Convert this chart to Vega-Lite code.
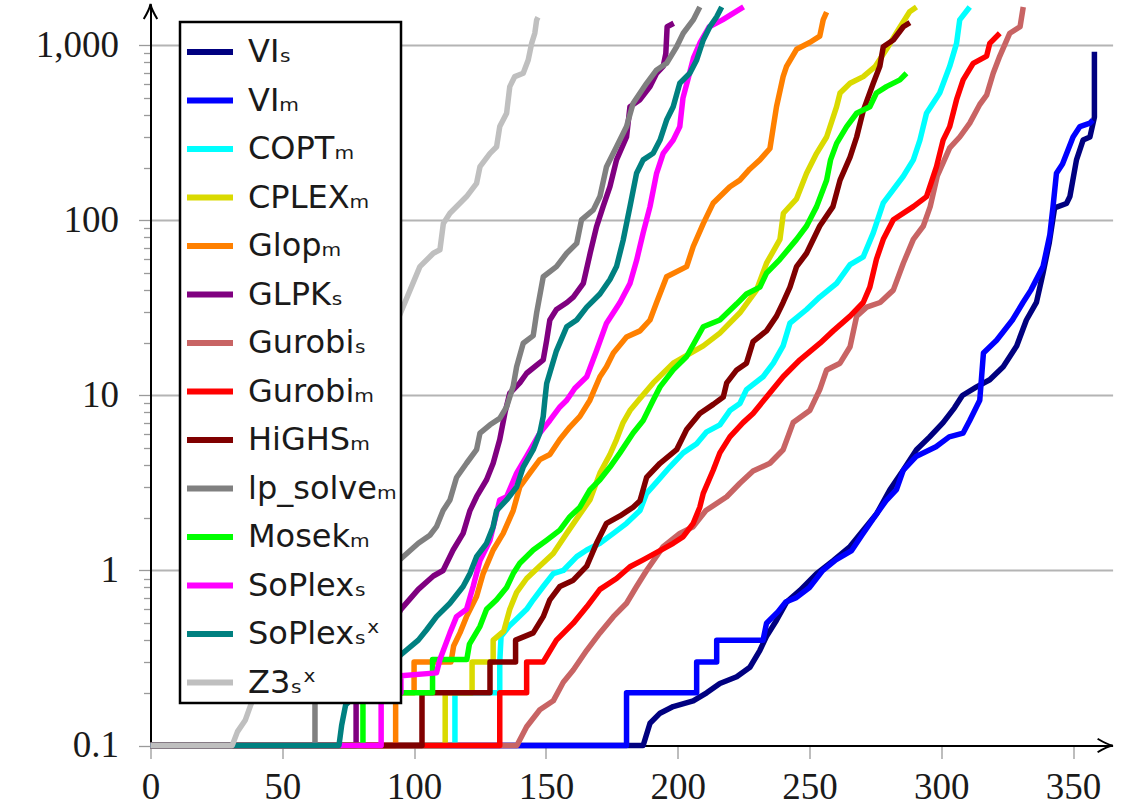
{
  "$schema": "https://vega.github.io/schema/vega-lite/v6.json",
  "width": 962.1,
  "height": 741.5,
  "autosize": {"type": "none"},
  "padding": {"left": 150.5, "top": 4, "right": 17.4, "bottom": 62.5},
  "background": "white",
  "config": {"view": {"stroke": null}},
  "datasets": {
    "runs": [
      {"solver":"VI\u209b","n":0,"t":0.1},{"solver":"VI\u209b","n":186.9,"t":0.1},{"solver":"VI\u209b","n":189.5,"t":0.134},{"solver":"VI\u209b","n":193.3,"t":0.153},{"solver":"VI\u209b","n":198.3,"t":0.167},{"solver":"VI\u209b","n":205.9,"t":0.18},{"solver":"VI\u209b","n":211,"t":0.2},{"solver":"VI\u209b","n":216,"t":0.226},{"solver":"VI\u209b","n":222.4,"t":0.247},{"solver":"VI\u209b","n":227.4,"t":0.28},{"solver":"VI\u209b","n":231.2,"t":0.35},{"solver":"VI\u209b","n":233.7,"t":0.42},{"solver":"VI\u209b","n":237.5,"t":0.52},{"solver":"VI\u209b","n":241.3,"t":0.66},{"solver":"VI\u209b","n":246.4,"t":0.77},{"solver":"VI\u209b","n":252.7,"t":0.96},{"solver":"VI\u209b","n":259,"t":1.14},{"solver":"VI\u209b","n":265.4,"t":1.37},{"solver":"VI\u209b","n":270.4,"t":1.7},{"solver":"VI\u209b","n":275.4,"t":2.1},{"solver":"VI\u209b","n":280.5,"t":2.89},{"solver":"VI\u209b","n":285.6,"t":3.75},{"solver":"VI\u209b","n":290.6,"t":4.9},{"solver":"VI\u209b","n":295.6,"t":5.8},{"solver":"VI\u209b","n":300.7,"t":7.0},{"solver":"VI\u209b","n":305,"t":8.5},{"solver":"VI\u209b","n":308,"t":10},{"solver":"VI\u209b","n":313.4,"t":11.2},{"solver":"VI\u209b","n":318.4,"t":12.3},{"solver":"VI\u209b","n":323.5,"t":14.6},{"solver":"VI\u209b","n":328.6,"t":19.2},{"solver":"VI\u209b","n":332.3,"t":27},{"solver":"VI\u209b","n":336.1,"t":34},{"solver":"VI\u209b","n":338.6,"t":50},{"solver":"VI\u209b","n":341,"t":75},{"solver":"VI\u209b","n":343,"t":118},{"solver":"VI\u209b","n":347.5,"t":125},{"solver":"VI\u209b","n":348.8,"t":137},{"solver":"VI\u209b","n":351.3,"t":222},{"solver":"VI\u209b","n":353.8,"t":288},{"solver":"VI\u209b","n":356.4,"t":300},{"solver":"VI\u209b","n":358.1,"t":390},{"solver":"VI\u209b","n":358.1,"t":920},

      {"solver":"VI\u2098","n":0,"t":0.1},{"solver":"VI\u2098","n":180.6,"t":0.1},{"solver":"VI\u2098","n":180.6,"t":0.2},{"solver":"VI\u2098","n":207.2,"t":0.2},{"solver":"VI\u2098","n":207.2,"t":0.3},{"solver":"VI\u2098","n":214.8,"t":0.3},{"solver":"VI\u2098","n":214.8,"t":0.4},{"solver":"VI\u2098","n":232.4,"t":0.4},{"solver":"VI\u2098","n":233.7,"t":0.5},{"solver":"VI\u2098","n":238,"t":0.58},{"solver":"VI\u2098","n":241,"t":0.66},{"solver":"VI\u2098","n":245,"t":0.7},{"solver":"VI\u2098","n":250,"t":0.8},{"solver":"VI\u2098","n":255,"t":1.0},{"solver":"VI\u2098","n":260,"t":1.15},{"solver":"VI\u2098","n":266,"t":1.3},{"solver":"VI\u2098","n":270,"t":1.6},{"solver":"VI\u2098","n":274,"t":1.96},{"solver":"VI\u2098","n":279,"t":2.5},{"solver":"VI\u2098","n":283,"t":2.9},{"solver":"VI\u2098","n":285.6,"t":3.75},{"solver":"VI\u2098","n":290.6,"t":4.5},{"solver":"VI\u2098","n":298,"t":5.1},{"solver":"VI\u2098","n":303,"t":5.8},{"solver":"VI\u2098","n":308.3,"t":6.1},{"solver":"VI\u2098","n":310.8,"t":7.2},{"solver":"VI\u2098","n":314.6,"t":9.4},{"solver":"VI\u2098","n":315.5,"t":14},{"solver":"VI\u2098","n":316,"t":17.5},{"solver":"VI\u2098","n":321,"t":20.7},{"solver":"VI\u2098","n":327,"t":27},{"solver":"VI\u2098","n":331,"t":34},{"solver":"VI\u2098","n":334,"t":40},{"solver":"VI\u2098","n":338.6,"t":54.5},{"solver":"VI\u2098","n":341.2,"t":83},{"solver":"VI\u2098","n":342.4,"t":120},{"solver":"VI\u2098","n":343.7,"t":186},{"solver":"VI\u2098","n":346,"t":210},{"solver":"VI\u2098","n":350,"t":300},{"solver":"VI\u2098","n":352.6,"t":344},{"solver":"VI\u2098","n":356.4,"t":360},{"solver":"VI\u2098","n":357.5,"t":375},

      {"solver":"COPT\u2098","n":0,"t":0.1},{"solver":"COPT\u2098","n":115.5,"t":0.1},{"solver":"COPT\u2098","n":115.5,"t":0.2},{"solver":"COPT\u2098","n":132.5,"t":0.2},{"solver":"COPT\u2098","n":132.5,"t":0.3},{"solver":"COPT\u2098","n":133,"t":0.42},{"solver":"COPT\u2098","n":136,"t":0.48},{"solver":"COPT\u2098","n":139,"t":0.53},{"solver":"COPT\u2098","n":142.7,"t":0.6},{"solver":"COPT\u2098","n":145.2,"t":0.68},{"solver":"COPT\u2098","n":149,"t":0.81},{"solver":"COPT\u2098","n":152.8,"t":0.96},{"solver":"COPT\u2098","n":156.6,"t":1.0},{"solver":"COPT\u2098","n":161.7,"t":1.2},{"solver":"COPT\u2098","n":165.5,"t":1.31},{"solver":"COPT\u2098","n":170.5,"t":1.43},{"solver":"COPT\u2098","n":175.6,"t":1.63},{"solver":"COPT\u2098","n":180.6,"t":1.86},{"solver":"COPT\u2098","n":185.7,"t":2.2},{"solver":"COPT\u2098","n":188.2,"t":2.76},{"solver":"COPT\u2098","n":192,"t":3.2},{"solver":"COPT\u2098","n":197,"t":3.9},{"solver":"COPT\u2098","n":202.1,"t":4.7},{"solver":"COPT\u2098","n":207.2,"t":5.3},{"solver":"COPT\u2098","n":211,"t":6.2},{"solver":"COPT\u2098","n":216,"t":6.8},{"solver":"COPT\u2098","n":219.8,"t":8.2},{"solver":"COPT\u2098","n":223.6,"t":9.0},{"solver":"COPT\u2098","n":226.1,"t":10.8},{"solver":"COPT\u2098","n":232.4,"t":12.8},{"solver":"COPT\u2098","n":236.3,"t":15.3},{"solver":"COPT\u2098","n":240,"t":19.2},{"solver":"COPT\u2098","n":242.6,"t":25.9},{"solver":"COPT\u2098","n":248.9,"t":31},{"solver":"COPT\u2098","n":253.9,"t":36.5},{"solver":"COPT\u2098","n":260.3,"t":43.7},{"solver":"COPT\u2098","n":265.4,"t":56},{"solver":"COPT\u2098","n":270.4,"t":62},{"solver":"COPT\u2098","n":274.2,"t":85},{"solver":"COPT\u2098","n":278,"t":126},{"solver":"COPT\u2098","n":285.6,"t":179},{"solver":"COPT\u2098","n":289.4,"t":222},{"solver":"COPT\u2098","n":291.9,"t":288},{"solver":"COPT\u2098","n":294.4,"t":410},{"solver":"COPT\u2098","n":299.4,"t":535},{"solver":"COPT\u2098","n":303.2,"t":760},{"solver":"COPT\u2098","n":305.8,"t":1028},{"solver":"COPT\u2098","n":307,"t":1400},{"solver":"COPT\u2098","n":310.8,"t":1660},

      {"solver":"CPLEX\u2098","n":0,"t":0.1},{"solver":"CPLEX\u2098","n":111.8,"t":0.1},{"solver":"CPLEX\u2098","n":111.8,"t":0.2},{"solver":"CPLEX\u2098","n":122,"t":0.2},{"solver":"CPLEX\u2098","n":122,"t":0.3},{"solver":"CPLEX\u2098","n":130,"t":0.3},{"solver":"CPLEX\u2098","n":130,"t":0.4},{"solver":"CPLEX\u2098","n":134,"t":0.45},{"solver":"CPLEX\u2098","n":136.3,"t":0.6},{"solver":"CPLEX\u2098","n":138.9,"t":0.75},{"solver":"CPLEX\u2098","n":142.7,"t":0.9},{"solver":"CPLEX\u2098","n":147.7,"t":1.06},{"solver":"CPLEX\u2098","n":152.8,"t":1.25},{"solver":"CPLEX\u2098","n":157.9,"t":1.63},{"solver":"CPLEX\u2098","n":162.9,"t":2.1},{"solver":"CPLEX\u2098","n":166.7,"t":2.53},{"solver":"CPLEX\u2098","n":170.5,"t":3.6},{"solver":"CPLEX\u2098","n":174.3,"t":4.6},{"solver":"CPLEX\u2098","n":176.8,"t":5.6},{"solver":"CPLEX\u2098","n":179.3,"t":7.0},{"solver":"CPLEX\u2098","n":181.9,"t":8.2},{"solver":"CPLEX\u2098","n":185.7,"t":9.6},{"solver":"CPLEX\u2098","n":190.7,"t":11.8},{"solver":"CPLEX\u2098","n":198.3,"t":15.3},{"solver":"CPLEX\u2098","n":209.7,"t":19.2},{"solver":"CPLEX\u2098","n":216,"t":22.7},{"solver":"CPLEX\u2098","n":223.6,"t":29.7},{"solver":"CPLEX\u2098","n":229.9,"t":40},{"solver":"CPLEX\u2098","n":233.7,"t":57},{"solver":"CPLEX\u2098","n":238.8,"t":78},{"solver":"CPLEX\u2098","n":240.1,"t":110},{"solver":"CPLEX\u2098","n":245.1,"t":133},{"solver":"CPLEX\u2098","n":248.9,"t":186},{"solver":"CPLEX\u2098","n":252.7,"t":242},{"solver":"CPLEX\u2098","n":256.5,"t":300},{"solver":"CPLEX\u2098","n":260.3,"t":447},{"solver":"CPLEX\u2098","n":261.6,"t":535},{"solver":"CPLEX\u2098","n":265.4,"t":608},{"solver":"CPLEX\u2098","n":270.4,"t":664},{"solver":"CPLEX\u2098","n":275,"t":760},{"solver":"CPLEX\u2098","n":279.2,"t":951},{"solver":"CPLEX\u2098","n":284,"t":1250},{"solver":"CPLEX\u2098","n":288,"t":1560},{"solver":"CPLEX\u2098","n":290.6,"t":1660},

      {"solver":"Glop\u2098","n":0,"t":0.1},{"solver":"Glop\u2098","n":93,"t":0.1},{"solver":"Glop\u2098","n":93,"t":0.2},{"solver":"Glop\u2098","n":100,"t":0.2},{"solver":"Glop\u2098","n":100,"t":0.3},{"solver":"Glop\u2098","n":114,"t":0.3},{"solver":"Glop\u2098","n":115,"t":0.37},{"solver":"Glop\u2098","n":117.4,"t":0.44},{"solver":"Glop\u2098","n":119.9,"t":0.545},{"solver":"Glop\u2098","n":123.7,"t":0.71},{"solver":"Glop\u2098","n":126.2,"t":0.96},{"solver":"Glop\u2098","n":130,"t":1.31},{"solver":"Glop\u2098","n":133.8,"t":1.63},{"solver":"Glop\u2098","n":137.6,"t":2.2},{"solver":"Glop\u2098","n":140.1,"t":3.0},{"solver":"Glop\u2098","n":143.9,"t":3.6},{"solver":"Glop\u2098","n":147.7,"t":4.3},{"solver":"Glop\u2098","n":151.5,"t":4.6},{"solver":"Glop\u2098","n":155.3,"t":5.6},{"solver":"Glop\u2098","n":159.1,"t":6.6},{"solver":"Glop\u2098","n":162.9,"t":7.6},{"solver":"Glop\u2098","n":166.7,"t":9.4},{"solver":"Glop\u2098","n":170.5,"t":12.8},{"solver":"Glop\u2098","n":173,"t":14.6},{"solver":"Glop\u2098","n":175.6,"t":17.5},{"solver":"Glop\u2098","n":180.6,"t":21.6},{"solver":"Glop\u2098","n":185.7,"t":23.4},{"solver":"Glop\u2098","n":189.5,"t":27},{"solver":"Glop\u2098","n":192,"t":34},{"solver":"Glop\u2098","n":195.8,"t":47.7},{"solver":"Glop\u2098","n":203.4,"t":54.5},{"solver":"Glop\u2098","n":205.9,"t":71},{"solver":"Glop\u2098","n":209.7,"t":96},{"solver":"Glop\u2098","n":213.5,"t":126},{"solver":"Glop\u2098","n":219.8,"t":156},{"solver":"Glop\u2098","n":223.6,"t":170},{"solver":"Glop\u2098","n":227.4,"t":197},{"solver":"Glop\u2098","n":231.2,"t":222},{"solver":"Glop\u2098","n":235,"t":258},{"solver":"Glop\u2098","n":236.3,"t":344},{"solver":"Glop\u2098","n":237.5,"t":447},{"solver":"Glop\u2098","n":240,"t":664},{"solver":"Glop\u2098","n":241.3,"t":760},{"solver":"Glop\u2098","n":245.1,"t":951},{"solver":"Glop\u2098","n":250.1,"t":1040},{"solver":"Glop\u2098","n":253.9,"t":1130},{"solver":"Glop\u2098","n":255.2,"t":1400},{"solver":"Glop\u2098","n":256.5,"t":1550},

      {"solver":"GLPK\u209b","n":0,"t":0.1},{"solver":"GLPK\u209b","n":78,"t":0.1},{"solver":"GLPK\u209b","n":78,"t":0.2},{"solver":"GLPK\u209b","n":85,"t":0.3},{"solver":"GLPK\u209b","n":95,"t":0.6},{"solver":"GLPK\u209b","n":101.6,"t":0.78},{"solver":"GLPK\u209b","n":107.3,"t":0.93},{"solver":"GLPK\u209b","n":111,"t":1.0},{"solver":"GLPK\u209b","n":114.8,"t":1.31},{"solver":"GLPK\u209b","n":118.6,"t":1.63},{"solver":"GLPK\u209b","n":121.2,"t":2.2},{"solver":"GLPK\u209b","n":123.7,"t":2.64},{"solver":"GLPK\u209b","n":127.5,"t":3.3},{"solver":"GLPK\u209b","n":130,"t":4.1},{"solver":"GLPK\u209b","n":132.5,"t":5.6},{"solver":"GLPK\u209b","n":134.5,"t":8},{"solver":"GLPK\u209b","n":136.3,"t":10.3},{"solver":"GLPK\u209b","n":140.1,"t":11.8},{"solver":"GLPK\u209b","n":142.7,"t":13.4},{"solver":"GLPK\u209b","n":149,"t":16},{"solver":"GLPK\u209b","n":150.3,"t":20.7},{"solver":"GLPK\u209b","n":151.5,"t":27},{"solver":"GLPK\u209b","n":154,"t":31},{"solver":"GLPK\u209b","n":158,"t":34},{"solver":"GLPK\u209b","n":160.4,"t":36.5},{"solver":"GLPK\u209b","n":164.2,"t":43.7},{"solver":"GLPK\u209b","n":166.8,"t":65},{"solver":"GLPK\u209b","n":169.2,"t":92},{"solver":"GLPK\u209b","n":171.7,"t":120},{"solver":"GLPK\u209b","n":174.3,"t":156},{"solver":"GLPK\u209b","n":176.8,"t":222},{"solver":"GLPK\u209b","n":180.6,"t":300},{"solver":"GLPK\u209b","n":181.9,"t":447},{"solver":"GLPK\u209b","n":185.7,"t":490},{"solver":"GLPK\u209b","n":189.5,"t":582},{"solver":"GLPK\u209b","n":192,"t":694},{"solver":"GLPK\u209b","n":194.5,"t":760},{"solver":"GLPK\u209b","n":195.5,"t":900},{"solver":"GLPK\u209b","n":196,"t":1280},{"solver":"GLPK\u209b","n":198.5,"t":1340},

      {"solver":"Gurobi\u209b","n":0,"t":0.1},{"solver":"Gurobi\u209b","n":139,"t":0.1},{"solver":"Gurobi\u209b","n":142.7,"t":0.128},{"solver":"Gurobi\u209b","n":147.7,"t":0.16},{"solver":"Gurobi\u209b","n":152.8,"t":0.18},{"solver":"Gurobi\u209b","n":156.6,"t":0.23},{"solver":"Gurobi\u209b","n":160.4,"t":0.27},{"solver":"Gurobi\u209b","n":165.5,"t":0.35},{"solver":"Gurobi\u209b","n":170.5,"t":0.44},{"solver":"Gurobi\u209b","n":175.6,"t":0.545},{"solver":"Gurobi\u209b","n":180.6,"t":0.65},{"solver":"Gurobi\u209b","n":184.4,"t":0.81},{"solver":"Gurobi\u209b","n":188.2,"t":1.0},{"solver":"Gurobi\u209b","n":194.5,"t":1.37},{"solver":"Gurobi\u209b","n":200.8,"t":1.63},{"solver":"Gurobi\u209b","n":205.9,"t":1.78},{"solver":"Gurobi\u209b","n":210.7,"t":2.2},{"solver":"Gurobi\u209b","n":218.6,"t":2.64},{"solver":"Gurobi\u209b","n":223.6,"t":3.15},{"solver":"Gurobi\u209b","n":228.6,"t":3.7},{"solver":"Gurobi\u209b","n":235,"t":4.1},{"solver":"Gurobi\u209b","n":240,"t":4.9},{"solver":"Gurobi\u209b","n":243.8,"t":7.0},{"solver":"Gurobi\u209b","n":250.1,"t":8.2},{"solver":"Gurobi\u209b","n":253.9,"t":10.8},{"solver":"Gurobi\u209b","n":256.5,"t":14},{"solver":"Gurobi\u209b","n":261.6,"t":15.3},{"solver":"Gurobi\u209b","n":265.4,"t":19},{"solver":"Gurobi\u209b","n":267.9,"t":28.4},{"solver":"Gurobi\u209b","n":271.7,"t":32},{"solver":"Gurobi\u209b","n":276.8,"t":34},{"solver":"Gurobi\u209b","n":281.8,"t":40},{"solver":"Gurobi\u209b","n":285.6,"t":57},{"solver":"Gurobi\u209b","n":289.4,"t":78},{"solver":"Gurobi\u209b","n":293.2,"t":93},{"solver":"Gurobi\u209b","n":295.8,"t":120},{"solver":"Gurobi\u209b","n":298.5,"t":180},{"solver":"Gurobi\u209b","n":303.2,"t":260},{"solver":"Gurobi\u209b","n":307,"t":300},{"solver":"Gurobi\u209b","n":310.8,"t":360},{"solver":"Gurobi\u209b","n":314.6,"t":460},{"solver":"Gurobi\u209b","n":317.2,"t":520},{"solver":"Gurobi\u209b","n":319.7,"t":694},{"solver":"Gurobi\u209b","n":322.2,"t":870},{"solver":"Gurobi\u209b","n":326,"t":1175},{"solver":"Gurobi\u209b","n":329.9,"t":1280},{"solver":"Gurobi\u209b","n":331.1,"t":1660},

      {"solver":"Gurobi\u2098","n":0,"t":0.1},{"solver":"Gurobi\u2098","n":132.5,"t":0.1},{"solver":"Gurobi\u2098","n":132.5,"t":0.2},{"solver":"Gurobi\u2098","n":142.7,"t":0.2},{"solver":"Gurobi\u2098","n":142.7,"t":0.3},{"solver":"Gurobi\u2098","n":149,"t":0.3},{"solver":"Gurobi\u2098","n":154,"t":0.4},{"solver":"Gurobi\u2098","n":160.4,"t":0.5},{"solver":"Gurobi\u2098","n":165.5,"t":0.62},{"solver":"Gurobi\u2098","n":170.5,"t":0.78},{"solver":"Gurobi\u2098","n":176.8,"t":0.9},{"solver":"Gurobi\u2098","n":181.9,"t":1.05},{"solver":"Gurobi\u2098","n":186.9,"t":1.15},{"solver":"Gurobi\u2098","n":193.3,"t":1.3},{"solver":"Gurobi\u2098","n":198.3,"t":1.43},{"solver":"Gurobi\u2098","n":202.1,"t":1.56},{"solver":"Gurobi\u2098","n":205.9,"t":1.86},{"solver":"Gurobi\u2098","n":208.4,"t":2.3},{"solver":"Gurobi\u2098","n":209.7,"t":2.76},{"solver":"Gurobi\u2098","n":213.5,"t":3.75},{"solver":"Gurobi\u2098","n":216,"t":4.7},{"solver":"Gurobi\u2098","n":219.8,"t":5.8},{"solver":"Gurobi\u2098","n":224.8,"t":7.0},{"solver":"Gurobi\u2098","n":228.6,"t":7.9},{"solver":"Gurobi\u2098","n":233.7,"t":9.8},{"solver":"Gurobi\u2098","n":240,"t":12.8},{"solver":"Gurobi\u2098","n":246.4,"t":16},{"solver":"Gurobi\u2098","n":254,"t":19.9},{"solver":"Gurobi\u2098","n":259,"t":23.4},{"solver":"Gurobi\u2098","n":265.4,"t":28.4},{"solver":"Gurobi\u2098","n":270.4,"t":34},{"solver":"Gurobi\u2098","n":272.9,"t":41.6},{"solver":"Gurobi\u2098","n":275.4,"t":60},{"solver":"Gurobi\u2098","n":278,"t":78},{"solver":"Gurobi\u2098","n":281.8,"t":101},{"solver":"Gurobi\u2098","n":289.4,"t":120},{"solver":"Gurobi\u2098","n":294.4,"t":137},{"solver":"Gurobi\u2098","n":298.2,"t":203},{"solver":"Gurobi\u2098","n":300.7,"t":288},{"solver":"Gurobi\u2098","n":303.2,"t":344},{"solver":"Gurobi\u2098","n":305.8,"t":490},{"solver":"Gurobi\u2098","n":308.3,"t":636},{"solver":"Gurobi\u2098","n":312.1,"t":791},{"solver":"Gurobi\u2098","n":317.2,"t":870},{"solver":"Gurobi\u2098","n":318.4,"t":1028},{"solver":"Gurobi\u2098","n":322.2,"t":1175},

      {"solver":"HiGHS\u2098","n":0,"t":0.1},{"solver":"HiGHS\u2098","n":103,"t":0.1},{"solver":"HiGHS\u2098","n":103,"t":0.2},{"solver":"HiGHS\u2098","n":128.8,"t":0.2},{"solver":"HiGHS\u2098","n":128.8,"t":0.3},{"solver":"HiGHS\u2098","n":138.5,"t":0.3},{"solver":"HiGHS\u2098","n":138.5,"t":0.4},{"solver":"HiGHS\u2098","n":145.2,"t":0.44},{"solver":"HiGHS\u2098","n":149,"t":0.545},{"solver":"HiGHS\u2098","n":151.5,"t":0.68},{"solver":"HiGHS\u2098","n":155.3,"t":0.81},{"solver":"HiGHS\u2098","n":160.4,"t":0.88},{"solver":"HiGHS\u2098","n":165.5,"t":1.06},{"solver":"HiGHS\u2098","n":169.2,"t":1.43},{"solver":"HiGHS\u2098","n":173,"t":1.86},{"solver":"HiGHS\u2098","n":178.1,"t":2.05},{"solver":"HiGHS\u2098","n":183.1,"t":2.3},{"solver":"HiGHS\u2098","n":185.7,"t":2.5},{"solver":"HiGHS\u2098","n":188.2,"t":3.4},{"solver":"HiGHS\u2098","n":193.3,"t":4.1},{"solver":"HiGHS\u2098","n":199.6,"t":4.9},{"solver":"HiGHS\u2098","n":203.4,"t":6.4},{"solver":"HiGHS\u2098","n":208.4,"t":7.9},{"solver":"HiGHS\u2098","n":213.5,"t":8.9},{"solver":"HiGHS\u2098","n":217.3,"t":9.8},{"solver":"HiGHS\u2098","n":218.6,"t":11.8},{"solver":"HiGHS\u2098","n":222.4,"t":14},{"solver":"HiGHS\u2098","n":226.1,"t":15.3},{"solver":"HiGHS\u2098","n":228.6,"t":20.3},{"solver":"HiGHS\u2098","n":233.7,"t":23.4},{"solver":"HiGHS\u2098","n":237.5,"t":28.4},{"solver":"HiGHS\u2098","n":240,"t":34},{"solver":"HiGHS\u2098","n":242.6,"t":41.6},{"solver":"HiGHS\u2098","n":245.1,"t":54.5},{"solver":"HiGHS\u2098","n":248.9,"t":65},{"solver":"HiGHS\u2098","n":253.9,"t":93},{"solver":"HiGHS\u2098","n":258.9,"t":120},{"solver":"HiGHS\u2098","n":261.6,"t":170},{"solver":"HiGHS\u2098","n":265.4,"t":230},{"solver":"HiGHS\u2098","n":267.9,"t":300},{"solver":"HiGHS\u2098","n":270.4,"t":424},{"solver":"HiGHS\u2098","n":274.2,"t":608},{"solver":"HiGHS\u2098","n":276.7,"t":760},{"solver":"HiGHS\u2098","n":278,"t":984},{"solver":"HiGHS\u2098","n":281.8,"t":1075},{"solver":"HiGHS\u2098","n":285.6,"t":1280},{"solver":"HiGHS\u2098","n":288.1,"t":1350},

      {"solver":"lp_solve\u2098","n":0,"t":0.1},{"solver":"lp_solve\u2098","n":62.4,"t":0.1},{"solver":"lp_solve\u2098","n":62.4,"t":0.2},{"solver":"lp_solve\u2098","n":70,"t":0.4},{"solver":"lp_solve\u2098","n":80,"t":0.7},{"solver":"lp_solve\u2098","n":90,"t":1.0},{"solver":"lp_solve\u2098","n":101.6,"t":1.43},{"solver":"lp_solve\u2098","n":106,"t":1.59},{"solver":"lp_solve\u2098","n":108.5,"t":1.78},{"solver":"lp_solve\u2098","n":111,"t":2.2},{"solver":"lp_solve\u2098","n":113.6,"t":2.53},{"solver":"lp_solve\u2098","n":116.1,"t":3.4},{"solver":"lp_solve\u2098","n":119.9,"t":4.1},{"solver":"lp_solve\u2098","n":123.7,"t":4.9},{"solver":"lp_solve\u2098","n":125,"t":6.1},{"solver":"lp_solve\u2098","n":128.8,"t":6.8},{"solver":"lp_solve\u2098","n":132.5,"t":7.4},{"solver":"lp_solve\u2098","n":135.1,"t":8.6},{"solver":"lp_solve\u2098","n":137.6,"t":11.3},{"solver":"lp_solve\u2098","n":138.9,"t":14.6},{"solver":"lp_solve\u2098","n":141.4,"t":19.9},{"solver":"lp_solve\u2098","n":145.2,"t":22},{"solver":"lp_solve\u2098","n":146.5,"t":29.7},{"solver":"lp_solve\u2098","n":149,"t":47.7},{"solver":"lp_solve\u2098","n":154,"t":54.5},{"solver":"lp_solve\u2098","n":157.9,"t":65},{"solver":"lp_solve\u2098","n":161.7,"t":74},{"solver":"lp_solve\u2098","n":163.5,"t":100.7},{"solver":"lp_solve\u2098","n":168,"t":115},{"solver":"lp_solve\u2098","n":170.5,"t":137},{"solver":"lp_solve\u2098","n":173,"t":203},{"solver":"lp_solve\u2098","n":176.8,"t":264},{"solver":"lp_solve\u2098","n":180.6,"t":344},{"solver":"lp_solve\u2098","n":183.1,"t":468},{"solver":"lp_solve\u2098","n":188.2,"t":608},{"solver":"lp_solve\u2098","n":192,"t":725},{"solver":"lp_solve\u2098","n":195.8,"t":791},{"solver":"lp_solve\u2098","n":199.6,"t":984},{"solver":"lp_solve\u2098","n":202.1,"t":1175},{"solver":"lp_solve\u2098","n":205.9,"t":1400},{"solver":"lp_solve\u2098","n":208.4,"t":1660},

      {"solver":"Mosek\u2098","n":0,"t":0.1},{"solver":"Mosek\u2098","n":80.6,"t":0.1},{"solver":"Mosek\u2098","n":80.6,"t":0.2},{"solver":"Mosek\u2098","n":107,"t":0.2},{"solver":"Mosek\u2098","n":107,"t":0.31},{"solver":"Mosek\u2098","n":120,"t":0.31},{"solver":"Mosek\u2098","n":121,"t":0.38},{"solver":"Mosek\u2098","n":125,"t":0.48},{"solver":"Mosek\u2098","n":127.5,"t":0.6},{"solver":"Mosek\u2098","n":131.3,"t":0.68},{"solver":"Mosek\u2098","n":135.1,"t":0.8},{"solver":"Mosek\u2098","n":137.6,"t":0.96},{"solver":"Mosek\u2098","n":140.1,"t":1.1},{"solver":"Mosek\u2098","n":145.2,"t":1.31},{"solver":"Mosek\u2098","n":150.3,"t":1.49},{"solver":"Mosek\u2098","n":155.3,"t":1.7},{"solver":"Mosek\u2098","n":159.1,"t":2.03},{"solver":"Mosek\u2098","n":162.9,"t":2.3},{"solver":"Mosek\u2098","n":166.7,"t":2.89},{"solver":"Mosek\u2098","n":170.5,"t":3.3},{"solver":"Mosek\u2098","n":174.3,"t":3.9},{"solver":"Mosek\u2098","n":178.1,"t":4.7},{"solver":"Mosek\u2098","n":183.1,"t":6.1},{"solver":"Mosek\u2098","n":186.9,"t":7.2},{"solver":"Mosek\u2098","n":190.7,"t":9.4},{"solver":"Mosek\u2098","n":193.3,"t":11.2},{"solver":"Mosek\u2098","n":198.3,"t":14},{"solver":"Mosek\u2098","n":203.4,"t":16.7},{"solver":"Mosek\u2098","n":209.7,"t":24.7},{"solver":"Mosek\u2098","n":216,"t":27},{"solver":"Mosek\u2098","n":222.4,"t":33.4},{"solver":"Mosek\u2098","n":226.1,"t":38},{"solver":"Mosek\u2098","n":231.2,"t":41.6},{"solver":"Mosek\u2098","n":233.7,"t":50},{"solver":"Mosek\u2098","n":238.8,"t":60},{"solver":"Mosek\u2098","n":245.1,"t":78},{"solver":"Mosek\u2098","n":248.9,"t":93},{"solver":"Mosek\u2098","n":252.7,"t":120},{"solver":"Mosek\u2098","n":256.5,"t":170},{"solver":"Mosek\u2098","n":258,"t":222},{"solver":"Mosek\u2098","n":260.3,"t":276},{"solver":"Mosek\u2098","n":264.1,"t":344},{"solver":"Mosek\u2098","n":267.9,"t":410},{"solver":"Mosek\u2098","n":272.9,"t":447},{"solver":"Mosek\u2098","n":275.4,"t":535},{"solver":"Mosek\u2098","n":279.2,"t":582},{"solver":"Mosek\u2098","n":284.3,"t":636},{"solver":"Mosek\u2098","n":286.8,"t":694},

      {"solver":"SoPlex\u209b","n":0,"t":0.1},{"solver":"SoPlex\u209b","n":87.5,"t":0.1},{"solver":"SoPlex\u209b","n":87.5,"t":0.2},{"solver":"SoPlex\u209b","n":95,"t":0.2},{"solver":"SoPlex\u209b","n":95,"t":0.25},{"solver":"SoPlex\u209b","n":108.5,"t":0.26},{"solver":"SoPlex\u209b","n":109.8,"t":0.31},{"solver":"SoPlex\u209b","n":113.6,"t":0.44},{"solver":"SoPlex\u209b","n":116.1,"t":0.545},{"solver":"SoPlex\u209b","n":119.9,"t":0.6},{"solver":"SoPlex\u209b","n":122.4,"t":0.81},{"solver":"SoPlex\u209b","n":125,"t":1.14},{"solver":"SoPlex\u209b","n":128.8,"t":1.49},{"solver":"SoPlex\u209b","n":132.5,"t":2.53},{"solver":"SoPlex\u209b","n":135.1,"t":2.64},{"solver":"SoPlex\u209b","n":138.9,"t":3.6},{"solver":"SoPlex\u209b","n":142.7,"t":4.5},{"solver":"SoPlex\u209b","n":147.7,"t":6.1},{"solver":"SoPlex\u209b","n":151.5,"t":7.2},{"solver":"SoPlex\u209b","n":155.3,"t":8.6},{"solver":"SoPlex\u209b","n":157.9,"t":9.4},{"solver":"SoPlex\u209b","n":161,"t":11},{"solver":"SoPlex\u209b","n":165.5,"t":12.8},{"solver":"SoPlex\u209b","n":169.2,"t":18},{"solver":"SoPlex\u209b","n":173,"t":25.9},{"solver":"SoPlex\u209b","n":178.1,"t":34},{"solver":"SoPlex\u209b","n":181.9,"t":43.7},{"solver":"SoPlex\u209b","n":184.4,"t":59},{"solver":"SoPlex\u209b","n":186.9,"t":85},{"solver":"SoPlex\u209b","n":189.5,"t":120},{"solver":"SoPlex\u209b","n":192,"t":186},{"solver":"SoPlex\u209b","n":194.5,"t":242},{"solver":"SoPlex\u209b","n":198.3,"t":288},{"solver":"SoPlex\u209b","n":200.8,"t":344},{"solver":"SoPlex\u209b","n":202,"t":500},{"solver":"SoPlex\u209b","n":204,"t":650},{"solver":"SoPlex\u209b","n":206,"t":850},{"solver":"SoPlex\u209b","n":208.4,"t":1030},{"solver":"SoPlex\u209b","n":212,"t":1280},{"solver":"SoPlex\u209b","n":217,"t":1400},{"solver":"SoPlex\u209b","n":225,"t":1660},

      {"solver":"SoPlex\u209b\u02e3","n":0,"t":0.1},{"solver":"SoPlex\u209b\u02e3","n":71.5,"t":0.1},{"solver":"SoPlex\u209b\u02e3","n":72.5,"t":0.13},{"solver":"SoPlex\u209b\u02e3","n":74,"t":0.17},{"solver":"SoPlex\u209b\u02e3","n":85,"t":0.25},{"solver":"SoPlex\u209b\u02e3","n":95,"t":0.33},{"solver":"SoPlex\u209b\u02e3","n":101.6,"t":0.4},{"solver":"SoPlex\u209b\u02e3","n":104.7,"t":0.457},{"solver":"SoPlex\u209b\u02e3","n":108.5,"t":0.545},{"solver":"SoPlex\u209b\u02e3","n":113.6,"t":0.65},{"solver":"SoPlex\u209b\u02e3","n":118.6,"t":0.81},{"solver":"SoPlex\u209b\u02e3","n":121.2,"t":0.96},{"solver":"SoPlex\u209b\u02e3","n":123.7,"t":1.2},{"solver":"SoPlex\u209b\u02e3","n":127.5,"t":1.43},{"solver":"SoPlex\u209b\u02e3","n":130,"t":1.78},{"solver":"SoPlex\u209b\u02e3","n":131.3,"t":2.2},{"solver":"SoPlex\u209b\u02e3","n":135.1,"t":2.53},{"solver":"SoPlex\u209b\u02e3","n":138.9,"t":3.0},{"solver":"SoPlex\u209b\u02e3","n":141.4,"t":3.9},{"solver":"SoPlex\u209b\u02e3","n":145.2,"t":4.9},{"solver":"SoPlex\u209b\u02e3","n":147.7,"t":6.1},{"solver":"SoPlex\u209b\u02e3","n":149,"t":7.6},{"solver":"SoPlex\u209b\u02e3","n":149.6,"t":9.4},{"solver":"SoPlex\u209b\u02e3","n":150.3,"t":11.7},{"solver":"SoPlex\u209b\u02e3","n":154,"t":18},{"solver":"SoPlex\u209b\u02e3","n":157.9,"t":24.7},{"solver":"SoPlex\u209b\u02e3","n":161.7,"t":27},{"solver":"SoPlex\u209b\u02e3","n":165.5,"t":32},{"solver":"SoPlex\u209b\u02e3","n":170.5,"t":38},{"solver":"SoPlex\u209b\u02e3","n":174.3,"t":46},{"solver":"SoPlex\u209b\u02e3","n":176.8,"t":54.5},{"solver":"SoPlex\u209b\u02e3","n":179.3,"t":77},{"solver":"SoPlex\u209b\u02e3","n":181.9,"t":120},{"solver":"SoPlex\u209b\u02e3","n":184.4,"t":186},{"solver":"SoPlex\u209b\u02e3","n":186.9,"t":222},{"solver":"SoPlex\u209b\u02e3","n":190.7,"t":242},{"solver":"SoPlex\u209b\u02e3","n":193.3,"t":288},{"solver":"SoPlex\u209b\u02e3","n":195.8,"t":375},{"solver":"SoPlex\u209b\u02e3","n":198.3,"t":447},{"solver":"SoPlex\u209b\u02e3","n":200.8,"t":608},{"solver":"SoPlex\u209b\u02e3","n":204.6,"t":694},{"solver":"SoPlex\u209b\u02e3","n":207.2,"t":826},{"solver":"SoPlex\u209b\u02e3","n":209.7,"t":1075},{"solver":"SoPlex\u209b\u02e3","n":212.2,"t":1280},{"solver":"SoPlex\u209b\u02e3","n":214.8,"t":1460},{"solver":"SoPlex\u209b\u02e3","n":216.7,"t":1660},

      {"solver":"Z3\u209b\u02e3","n":0,"t":0.1},{"solver":"Z3\u209b\u02e3","n":31,"t":0.1},{"solver":"Z3\u209b\u02e3","n":33,"t":0.12},{"solver":"Z3\u209b\u02e3","n":36,"t":0.14},{"solver":"Z3\u209b\u02e3","n":38,"t":0.17},{"solver":"Z3\u209b\u02e3","n":50,"t":0.5},{"solver":"Z3\u209b\u02e3","n":65,"t":2},{"solver":"Z3\u209b\u02e3","n":80,"t":8},{"solver":"Z3\u209b\u02e3","n":95,"t":30},{"solver":"Z3\u209b\u02e3","n":102.2,"t":54.5},{"solver":"Z3\u209b\u02e3","n":107.3,"t":65},{"solver":"Z3\u209b\u02e3","n":109.8,"t":68},{"solver":"Z3\u209b\u02e3","n":111.1,"t":96},{"solver":"Z3\u209b\u02e3","n":113.6,"t":110},{"solver":"Z3\u209b\u02e3","n":119.9,"t":137},{"solver":"Z3\u209b\u02e3","n":123.7,"t":163},{"solver":"Z3\u209b\u02e3","n":125,"t":203},{"solver":"Z3\u209b\u02e3","n":128.8,"t":242},{"solver":"Z3\u209b\u02e3","n":131.3,"t":264},{"solver":"Z3\u209b\u02e3","n":132.5,"t":344},{"solver":"Z3\u209b\u02e3","n":135.1,"t":410},{"solver":"Z3\u209b\u02e3","n":136.3,"t":582},{"solver":"Z3\u209b\u02e3","n":138.2,"t":664},{"solver":"Z3\u209b\u02e3","n":141.4,"t":694},{"solver":"Z3\u209b\u02e3","n":143.3,"t":826},{"solver":"Z3\u209b\u02e3","n":144.6,"t":1028},{"solver":"Z3\u209b\u02e3","n":145.8,"t":1175},{"solver":"Z3\u209b\u02e3","n":146.5,"t":1400},{"solver":"Z3\u209b\u02e3","n":147,"t":1450}
    ]
  },
  "layer": [
    {
      "data": {"name": "runs"},
      "mark": {"type": "line", "strokeWidth": 5.5, "strokeJoin": "round", "strokeCap": "butt"},
      "encoding": {
        "x": {
          "field": "n", "type": "quantitative",
          "scale": {"domain": [0, 365], "nice": false, "zero": false},
          "axis": {
            "title": null, "grid": false,
            "values": [0, 50, 100, 150, 200, 250, 300, 350],
            "format": "d",
            "domainColor": "black", "domainWidth": 2,
            "tickColor": "#9a9a9a", "tickWidth": 1.3, "tickSize": 13,
            "labelFont": "Liberation Serif", "labelFontSize": 37, "labelColor": "#1a1a1a",
            "labelPadding": 11, "labelFlush": false, "labelOverlap": false
          }
        },
        "y": {
          "field": "t", "type": "quantitative",
          "scale": {"type": "log", "domain": [0.1, 1726], "nice": false},
          "axis": {
            "title": null,
            "values": [0.1,0.2,0.3,0.4,0.5,0.6,0.7,0.8,0.9,1,2,3,4,5,6,7,8,9,10,20,30,40,50,60,70,80,90,100,200,300,400,500,600,700,800,900,1000],
            "labelExpr": "indexof([0.1,1,10,100,1000], datum.value) >= 0 ? format(datum.value, ',') : ''",
            "grid": true,
            "gridColor": "#b4b4b4", "gridWidth": 2,
            "gridOpacity": {"condition": {"test": "indexof([1,10,100,1000], datum.value) >= 0", "value": 1}, "value": 0},
            "domainColor": "black", "domainWidth": 2,
            "tickColor": "#9a9a9a", "tickWidth": 1.3,
            "tickSize": {"condition": {"test": "indexof([0.1,1,10,100,1000], datum.value) >= 0", "value": 12}, "value": 7},
            "labelFont": "Liberation Serif", "labelFontSize": 37, "labelColor": "#1a1a1a",
            "labelPadding": 20, "labelOverlap": false
          }
        },
        "color": {
          "field": "solver", "type": "nominal",
          "scale": {
            "domain": ["VI\u209b","VI\u2098","COPT\u2098","CPLEX\u2098","Glop\u2098","GLPK\u209b","Gurobi\u209b","Gurobi\u2098","HiGHS\u2098","lp_solve\u2098","Mosek\u2098","SoPlex\u209b","SoPlex\u209b\u02e3","Z3\u209b\u02e3"],
            "range": ["#000080","#0000ff","#00ffff","#dada00","#ff8000","#800080","#c86464","#ff0000","#800000","#808080","#00ff00","#ff00ff","#008080","#bfbfbf"]
          },
          "legend": {
            "title": null,
            "orient": "none", "legendX": 29.5, "legendY": 18,
            "symbolType": "stroke", "symbolStrokeWidth": 6, "symbolSize": 2116,
            "labelFont": "DejaVu Sans", "labelFontSize": 32, "labelColor": "#1a1a1a",
            "labelOffset": 12, "labelLimit": 0,
            "rowPadding": 6.5,
            "padding": 4,
            "fillColor": "white", "strokeColor": "black",
            "encode": {"legend": {"update": {"strokeWidth": {"value": 2.5}}}}
          }
        },
        "order": {"value": null}
      }
    },
    {
      "data": {"values": [{"n": 365, "t": 0.1}]},
      "mark": {"type": "point", "shape": "M -1 -0.45 Q -0.35 -0.06 0 0 Q -0.35 0.06 -1 0.45", "filled": false, "stroke": "black", "strokeWidth": 2, "size": 900, "angle": 0, "opacity": 1},
      "encoding": {"x": {"field": "n", "type": "quantitative"}, "y": {"field": "t", "type": "quantitative"}}
    },
    {
      "data": {"values": [{"n": 0, "t": 1726}]},
      "mark": {"type": "point", "shape": "M -1 -0.45 Q -0.35 -0.06 0 0 Q -0.35 0.06 -1 0.45", "filled": false, "stroke": "black", "strokeWidth": 2, "size": 900, "angle": 270, "opacity": 1},
      "encoding": {"x": {"field": "n", "type": "quantitative"}, "y": {"field": "t", "type": "quantitative"}}
    }
  ]
}
